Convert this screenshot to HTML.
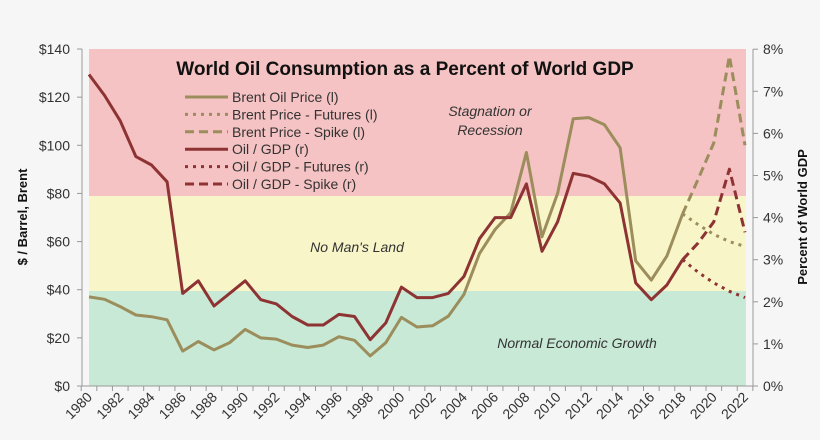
<!DOCTYPE html>
<html><head><meta charset="utf-8"><style>
html,body{margin:0;padding:0;background:#f6f6f6;}
svg{display:block;font-family:"Liberation Sans",sans-serif;}
</style></head><body>
<svg id="s" width="820" height="440" xmlns="http://www.w3.org/2000/svg">
<rect width="820" height="440" fill="#f6f6f6"/>
<rect x="89" y="49" width="657" height="147" fill="#f5c3c3"/>
<rect x="89" y="196" width="657" height="95" fill="#f8f6c9"/>
<rect x="89" y="291" width="657" height="95" fill="#c8e9d5"/>
<g id="g"></g>
<text x="405" y="75" text-anchor="middle" font-size="19" font-weight="bold" fill="#111">World Oil Consumption as a Percent of World GDP</text>
<g font-size="14" fill="#333" font-style="italic" text-anchor="middle">
<text x="490" y="116">Stagnation or</text>
<text x="490" y="135">Recession</text>
<text x="357" y="252">No Man's Land</text>
<text x="577" y="348">Normal Economic Growth</text>
</g>
<text transform="translate(27,217) rotate(-90)" text-anchor="middle" font-size="13" font-weight="bold" fill="#111">$ / Barrel, Brent</text>
<text transform="translate(807,217) rotate(-90)" text-anchor="middle" font-size="13" font-weight="bold" fill="#111">Percent of World GDP</text>
</svg>
<script>
var g=document.getElementById('g'),h='';
function X(y){return 89+(y-1980)*15.62;}
function YD(v){return 386-v*2.407;}
function YP(p){return 386-p*42.1;}
h+='<line x1="82" y1="49" x2="82" y2="386" stroke="#999"/>';
h+='<line x1="753" y1="49" x2="753" y2="386" stroke="#999"/>';
h+='<line x1="82" y1="386" x2="753" y2="386" stroke="#999"/>';
for(var i=0;i<=7;i++){var y=YD(i*20);h+='<line x1="77" y1="'+y+'" x2="82" y2="'+y+'" stroke="#999"/>';
h+='<text x="70" y="'+(y+5)+'" text-anchor="end" font-size="14" fill="#333">$'+(i*20)+'</text>';}
for(var i=0;i<=8;i++){var y=YP(i);h+='<line x1="753" y1="'+y+'" x2="758" y2="'+y+'" stroke="#999"/>';
h+='<text x="763" y="'+(y+5)+'" font-size="14" fill="#333">'+i+'%</text>';}
for(var yr=1980;yr<=2023;yr++){var x=X(yr)-7.8;h+='<line x1="'+x+'" y1="386" x2="'+x+'" y2="391" stroke="#999"/>';}
for(var yr=1980;yr<=2022;yr+=2){var x=X(yr)+4;h+='<text transform="translate('+x+',398) rotate(-45)" text-anchor="end" font-size="14" fill="#333">'+yr+'</text>';}
function line(pts,yf,col,dash){var d='';pts.forEach(function(p,i){d+=(i?'L':'M')+X(p[0]).toFixed(1)+','+yf(p[1]).toFixed(1);});
return '<path d="'+d+'" fill="none" stroke="'+col+'" stroke-width="3" stroke-linejoin="round"'+(dash?' stroke-dasharray="'+dash+'"':'')+'/>';}
var B=[37,36,33,29.5,28.8,27.5,14.5,18.5,15,18,23.5,20,19.5,17,16,17,20.5,19,12.5,18,28.5,24.5,25,29,38,55,65,72,97,62,80,111,111.5,108.5,99,52,44,54,71.5];
var O=[7.4,6.9,6.3,5.45,5.25,4.85,2.2,2.5,1.9,2.2,2.5,2.05,1.95,1.65,1.45,1.45,1.7,1.65,1.1,1.5,2.35,2.1,2.1,2.2,2.6,3.5,4.0,4.0,4.8,3.2,3.9,5.05,4.98,4.8,4.35,2.45,2.05,2.4,3.0];
var bc='#9c8d5c',oc='#8e3333';
h+=line(B.map(function(v,i){return[1980+i,v]}),YD,bc);
h+=line([[2018,71.5],[2019,67],[2020,63],[2021,60],[2022,58]],YD,bc,'3,5');
h+=line([[2018,71.5],[2019,86],[2020,101],[2021,137],[2022,100]],YD,bc,'9,5');
h+=line(O.map(function(v,i){return[1980+i,v]}),YP,oc);
h+=line([[2018,3.0],[2019,2.7],[2020,2.45],[2021,2.25],[2022,2.1]],YP,oc,'3,5');
h+=line([[2018,3.0],[2019,3.4],[2020,3.9],[2021,5.15],[2022,3.65]],YP,oc,'9,5');
var L=[['Brent Oil Price (l)',bc,''],['Brent Price - Futures (l)',bc,'3,5'],['Brent Price - Spike (l)',bc,'9,5'],['Oil / GDP (r)',oc,''],['Oil / GDP - Futures (r)',oc,'3,5'],['Oil / GDP - Spike (r)',oc,'9,5']];
L.forEach(function(l,i){var y=97+i*17.4;h+='<line x1="185" y1="'+y+'" x2="228" y2="'+y+'" stroke="'+l[1]+'" stroke-width="3"'+(l[2]?' stroke-dasharray="'+l[2]+'"':'')+'/>';
h+='<text x="232" y="'+(y+5)+'" font-size="14" fill="#333">'+l[0]+'</text>';});
g.innerHTML=h;
</script>
</body></html>
